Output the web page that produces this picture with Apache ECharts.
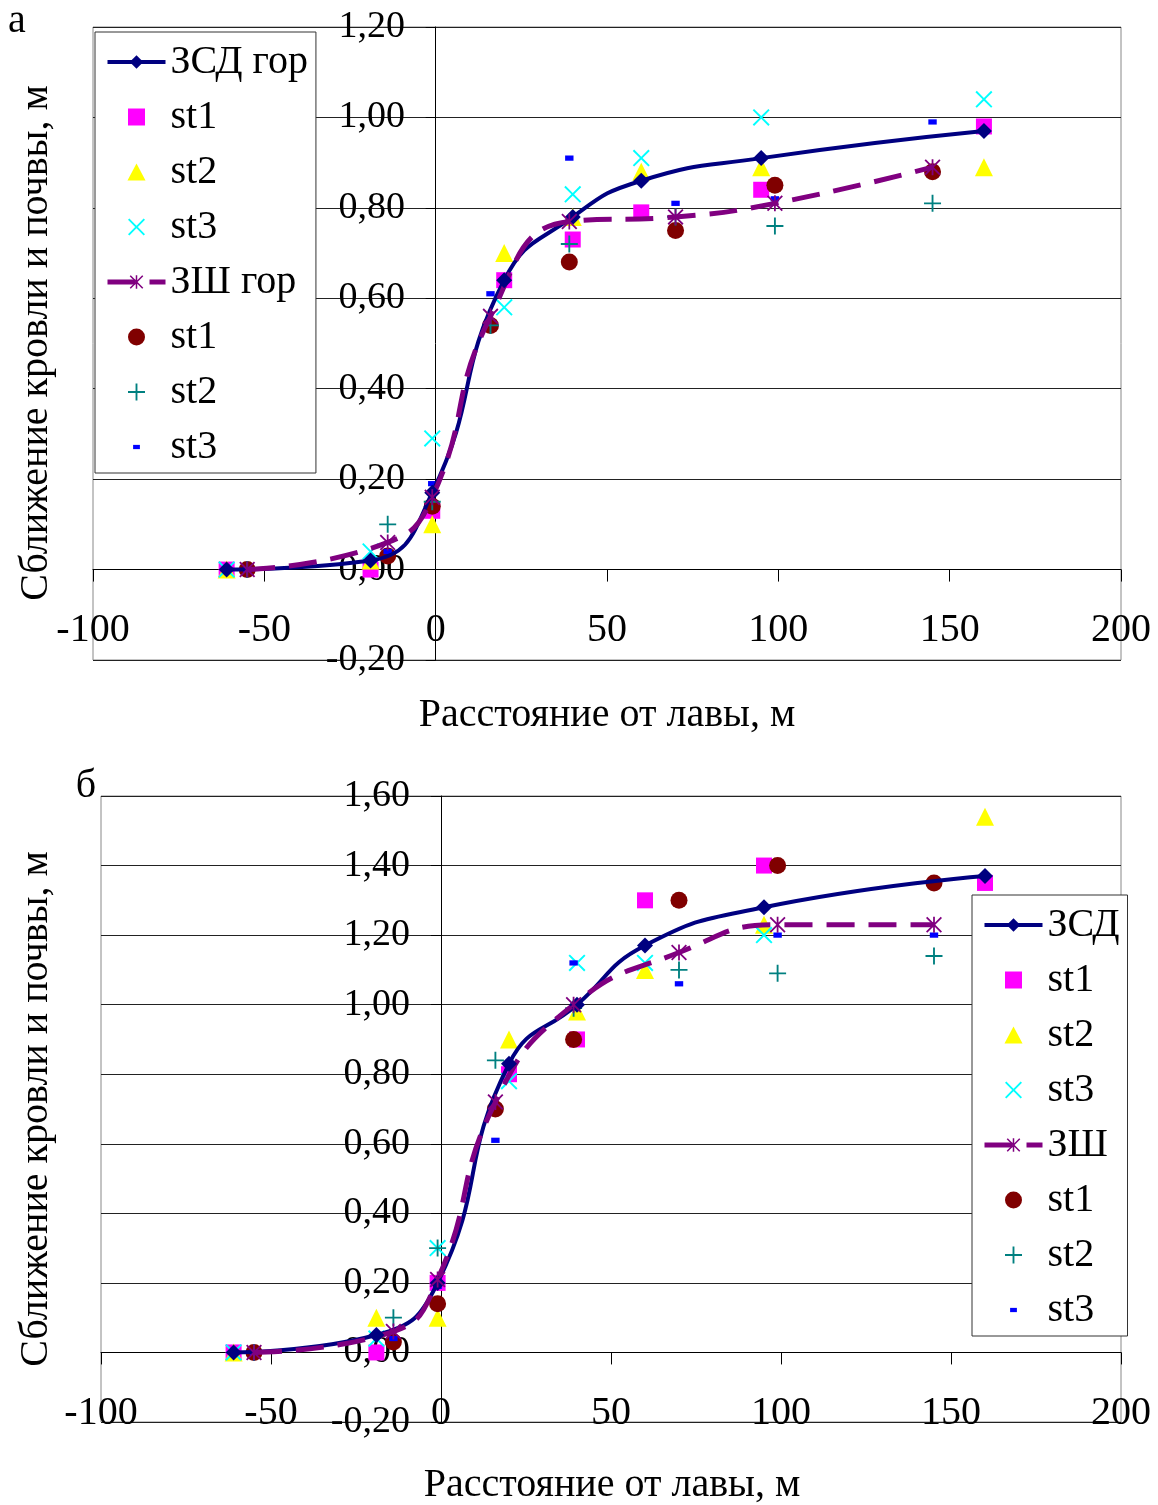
<!DOCTYPE html>
<html>
<head>
<meta charset="utf-8">
<script src="https://cdn.jsdelivr.net/npm/echarts@6/dist/echarts.min.js"></script>
<style>
html,body{margin:0;padding:0;background:#fff;}
#c{width:1158px;height:1505px;}
</style>
</head>
<body>
<div id="c"></div>
<script>
// ---------- DATA: chart "а" ----------
const xZsdA    = [-61, -19, -1, 20, 40, 60, 95, 160];
const zsdLineA = [0.00, 0.02, 0.17, 0.64, 0.78, 0.86, 0.91, 0.97];
const zsdSt1A  = [0.00, 0.00, 0.13, 0.64, 0.73, 0.79, 0.84, 0.98];
const zsdSt2A  = [0.00, 0.02, 0.10, 0.70, 0.78, 0.88, 0.89, 0.89];
const zsdSt3A  = [0.00, 0.04, 0.29, 0.58, 0.83, 0.91, 1.00, 1.04];

const xZshA    = [-55, -14, -1, 16, 39, 70, 99, 145];
const zshLineA = [0.00, 0.06, 0.16, 0.56, 0.77, 0.78, 0.81, 0.89];
const zshSt1A  = [0.00, 0.03, 0.14, 0.54, 0.68, 0.75, 0.85, 0.88];
const zshSt2A  = [0.00, 0.10, 0.15, 0.54, 0.72, 0.78, 0.76, 0.81];
const zshSt3A  = [0.00, 0.04, 0.19, 0.61, 0.91, 0.81, 0.82, 0.99];

// ---------- DATA: chart "б" ----------
const xZsdB    = [-61, -19, -1, 20, 40, 60, 95, 160];
const zsdLineB = [0.00, 0.05, 0.20, 0.83, 1.00, 1.17, 1.28, 1.37];
const zsdSt1B  = [0.00, 0.00, 0.20, 0.80, 0.90, 1.30, 1.40, 1.35];
const zsdSt2B  = [0.00, 0.10, 0.10, 0.90, 0.98, 1.10, 1.23, 1.54];
const zsdSt3B  = [0.00, 0.04, 0.30, 0.78, 1.12, 1.12, 1.20, 1.22];

const xZshB    = [-55, -14, -1, 16, 39, 70, 99, 145];
const zshLineB = [0.00, 0.06, 0.21, 0.72, 1.00, 1.15, 1.23, 1.23];
const zshSt1B  = [0.00, 0.03, 0.14, 0.70, 0.90, 1.30, 1.40, 1.35];
const zshSt2B  = [0.00, 0.10, 0.30, 0.84, 0.99, 1.10, 1.09, 1.14];
const zshSt3B  = [0.00, 0.04, 0.19, 0.61, 1.12, 1.06, 1.20, 1.20];

// ---------- TEXTS ----------
const xTitle = 'Расстояние от лавы, м';
const yTitle = 'Сближение кровли и почвы, м';
const namesA = ['ЗСД гор', 'a|st1', 'a|st2', 'a|st3', 'ЗШ гор', 'a|st1 ', 'a|st2 ', 'a|st3 '];
const namesB = ['ЗСД', 'b|st1', 'b|st2', 'b|st3', 'ЗШ', 'b|st1 ', 'b|st2 ', 'b|st3 '];

// ---------- STYLE ----------
const FONT = 'Liberation Serif';
const C = {navy:'#000080', mag:'#FF00FF', yel:'#FFFF00', cyan:'#00FFFF',
           pur:'#800080', dred:'#800000', teal:'#008080', blue:'#0000FF'};
const SYM_SQ = 'path://M0,0H10V10H0Z';
const SYM_TRI = 'path://M5,0L10,9.4H0Z';
const SYM_X = 'path://M0,0.8L0.8,0L5,4.2L9.2,0L10,0.8L5.8,5L10,9.2L9.2,10L5,5.8L0.8,10L0,9.2L4.2,5Z';
const SYM_PLUS = 'path://M4.45,0H5.55V4.45H10V5.55H5.55V10H4.45V5.55H0V4.45H4.45Z';
const SYM_AST = 'path://M0,0.8L0.8,0L5,4.2L9.2,0L10,0.8L5.8,5L10,9.2L9.2,10L5,5.8L0.8,10L0,9.2L4.2,5Z M4.45,0H5.55V10H4.45Z';
const SYM_DASH = 'path://M0,0M20,20M6,7.5H14V12.5H6Z';
const ICONS = [null, SYM_SQ, SYM_TRI, SYM_X, null, 'circle', SYM_PLUS, SYM_DASH];

function pts(xs, ys) { return xs.map((x, i) => [x, ys[i]]); }
function lineS(name, xs, ys, gi, color, symbol, size, ltype, width) {
  return {type:'line', name, xAxisIndex:gi, yAxisIndex:gi, data:pts(xs, ys),
    smooth:0.5, symbol, symbolSize:size, showSymbol:true,
    lineStyle:{color, width, type:ltype}, itemStyle:{color, opacity:1}};
}
function scat(name, xs, ys, gi, color, symbol, size) {
  return {type:'scatter', name, xAxisIndex:gi, yAxisIndex:gi, data:pts(xs, ys),
    symbol, symbolSize:size, itemStyle:{color, opacity:1}};
}
function seriesFor(names, gi, xZsd, zL, z1, z2, z3, xZsh, sL, s1, s2, s3) {
  return [
    lineS(names[0], xZsd, zL, gi, C.navy, 'diamond', 16, 'solid', 4),
    scat(names[1], xZsd, z1, gi, C.mag, SYM_SQ, 16),
    scat(names[2], xZsd, z2, gi, C.yel, SYM_TRI, 18),
    scat(names[3], xZsd, z3, gi, C.cyan, SYM_X, 17),
    lineS(names[4], xZsh, sL, gi, C.pur, SYM_AST, 16, [28, 14], 5),
    scat(names[5], xZsh, s1, gi, C.dred, 'circle', 17),
    scat(names[6], xZsh, s2, gi, C.teal, SYM_PLUS, 17),
    scat(names[7], xZsh, s3, gi, C.blue, SYM_DASH, 21)
  ];
}
function xAx(gi, margin) {
  return {type:'value', gridIndex:gi, min:-100, max:200, interval:50,
    axisLine:{show:true, onZero:true, lineStyle:{color:'#000', width:1}},
    axisTick:{show:true, length:12, lineStyle:{color:'#000', width:1}},
    axisLabel:{margin, fontSize:40, fontFamily:FONT, color:'#000'},
    splitLine:{show:false}};
}
function yAx(gi, min, max, margin) {
  return {type:'value', gridIndex:gi, min, max, interval:0.2,
    axisLine:{show:true, onZero:true, lineStyle:{color:'#000', width:1}},
    axisTick:{show:true, length:10, lineStyle:{color:'#000', width:1}},
    axisLabel:{margin, fontSize:38, fontFamily:FONT, color:'#000',
      formatter: v => v.toFixed(2).replace('.', ',')},
    splitLine:{show:true, lineStyle:{color:'#222', width:1}}};
}
function legendFor(names, left, top) {
  return {show:true,
    data:names.map((n, i) => ICONS[i] ? {name:n, icon:ICONS[i]} : {name:n}),
    orient:'vertical', left, top, symbolKeepAspect:true,
    padding:[8, 8, 4, 10], itemWidth:58, itemHeight:17, itemGap:11,
    lineStyle:{width:'inherit', type:'inherit'},
    backgroundColor:'#fff', borderColor:'#333', borderWidth:1, selectedMode:false,
    textStyle:{fontSize:40, fontFamily:FONT, color:'#000', lineHeight:44},
    formatter: n => n.indexOf('|') >= 0 ? n.split('|')[1].trim() : n};
}
function txt(x, y, text, size, rot) {
  return {type:'text', x, y, rotation:rot || 0, z:100,
    style:{text, fontSize:size, fontFamily:FONT, fill:'#000', align:'center', verticalAlign:'middle'}};
}

const chart = echarts.init(document.getElementById('c'), null, {renderer:'canvas'});
chart.setOption({
  animation:false,
  backgroundColor:'#fff',
  grid:[
    {left:93, top:27, width:1028, height:633, show:true, borderColor:'#888', borderWidth:1,
     backgroundColor:'#fff', containLabel:false, outerBoundsMode:'none'},
    {left:101, top:796, width:1020, height:626, show:true, borderColor:'#888', borderWidth:1,
     backgroundColor:'#fff', containLabel:false, outerBoundsMode:'none'}
  ],
  xAxis:[xAx(0, -50), xAx(1, -29)],
  yAxis:[yAx(0, -0.2, 1.2, -312), yAx(1, -0.2, 1.6, -309)],
  legend:[legendFor(namesA, 95, 32), legendFor(namesB, 972, 895)],
  series:[
    ...seriesFor(namesA, 0, xZsdA, zsdLineA, zsdSt1A, zsdSt2A, zsdSt3A, xZshA, zshLineA, zshSt1A, zshSt2A, zshSt3A),
    ...seriesFor(namesB, 1, xZsdB, zsdLineB, zsdSt1B, zsdSt2B, zsdSt3B, xZshB, zshLineB, zshSt1B, zshSt2B, zshSt3B)
  ],
  graphic:[
    txt(17, 21, 'а', 40),
    txt(86, 786, 'б', 40),
    txt(607, 715, xTitle, 40),
    txt(612, 1485, xTitle, 40),
    txt(36, 343, yTitle, 40, Math.PI / 2),
    txt(36, 1109, yTitle, 40, Math.PI / 2)
  ]
});
</script>
</body>
</html>
